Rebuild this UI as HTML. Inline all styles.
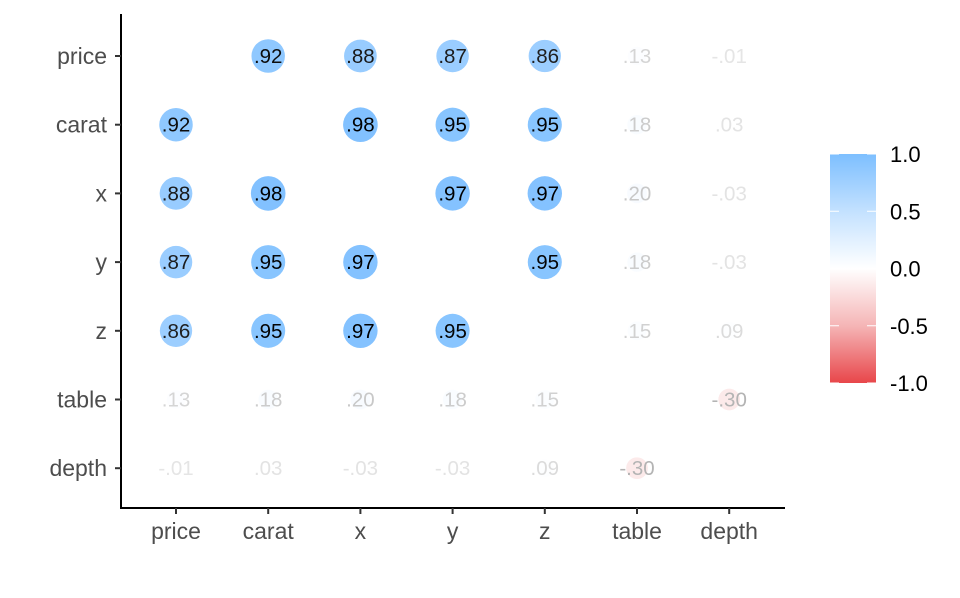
<!DOCTYPE html>
<html><head><meta charset="utf-8"><style>
body{margin:0;background:#fff;}
svg text{font-family:"Liberation Sans",sans-serif;}
</style></head><body>
<svg id="chart" width="960" height="593" xmlns="http://www.w3.org/2000/svg">
<defs>
<linearGradient id="cbar" x1="0" y1="0" x2="0" y2="1">
<stop offset="0" stop-color="#7dbfff"/>
<stop offset="0.25" stop-color="#c3e1ff"/>
<stop offset="0.5" stop-color="#ffffff"/>
<stop offset="0.75" stop-color="#f5b5b6"/>
<stop offset="1" stop-color="#e8464a"/>
</linearGradient>
</defs>
<g id="plot"></g>
<g id="legend">
<rect x="830" y="154" width="46" height="229" fill="url(#cbar)"/>
</g>
</svg>
<script>
const vars = ["price","carat","x","y","z","table","depth"];
const corr = [
[1,.92,.88,.87,.86,.13,-.01],
[.92,1,.98,.95,.95,.18,.03],
[.88,.98,1,.97,.97,.20,-.03],
[.87,.95,.97,1,.95,.18,-.03],
[.86,.95,.97,.95,1,.15,.09],
[.13,.18,.20,.18,.15,1,-.30],
[-.01,.03,-.03,-.03,.09,-.30,1]
];
const legendTicks = [1.0,0.5,0.0,-0.5,-1.0];

const NS="http://www.w3.org/2000/svg";
const svg=document.getElementById('plot');
const leg=document.getElementById('legend');
const xPos=i=>176+i*92.2;
const yPos=i=>56+i*68.7;
function mk(tag,attrs,parent){const e=document.createElementNS(NS,tag);for(const k in attrs)e.setAttribute(k,attrs[k]);parent.appendChild(e);return e;}
function lerp(a,b,t){return Math.round(a+(b-a)*t);}
function col(v){
  const t=Math.pow(Math.abs(v),1.8);
  if(v>=0){return `rgb(${lerp(255,125,t)},${lerp(255,191,t)},255)`;}
  return `rgb(${lerp(255,232,t)},${lerp(255,70,t)},${lerp(255,74,t)})`;
}
function fmt(v){let s=Math.abs(v).toFixed(2).replace(/^0/,'');return (v<0?'-':'')+s;}
let ax=mk('line',{x1:121,y1:14,x2:121,y2:508.5,stroke:'#000','stroke-width':2},svg);

ax=mk('line',{x1:120,y1:508,x2:785,y2:508,stroke:'#000','stroke-width':2},svg);

vars.forEach((v,i)=>{
  let t=mk('line',{x1:xPos(i),y1:508,x2:xPos(i),y2:514,stroke:'#333','stroke-width':2},svg);
  
  let l=mk('text',{x:xPos(i),y:539,'text-anchor':'middle','font-size':23,fill:'#4d4d4d'},svg);l.textContent=v;
  
  t=mk('line',{x1:115,y1:yPos(i),x2:121,y2:yPos(i),stroke:'#333','stroke-width':2},svg);
  
  l=mk('text',{x:107,y:yPos(i)+8,'text-anchor':'end','font-size':23,fill:'#4d4d4d'},svg);l.textContent=v;
  
});
corr.forEach((row,r)=>row.forEach((v,c)=>{
  if(r===c)return;
  const a=Math.abs(v);
  const ci=mk('circle',{cx:xPos(c),cy:yPos(r),r:8+9.5*a,fill:col(v)},svg);
  
  
  const g=Math.round(230-(230)*Math.min(1,Math.pow(a,1.3)*1.05));
  const tx=mk('text',{x:xPos(c),y:yPos(r)+7,'text-anchor':'middle','font-size':20.5,fill:`rgb(${g},${g},${g})`},svg);
  tx.textContent=fmt(v);
  
  
}));
legendTicks.forEach(v=>{
  const y=154+(1-v)/2*229;
  let t=mk('line',{x1:830,y1:y,x2:839,y2:y,stroke:'#fff','stroke-width':1},leg);
  
  t=mk('line',{x1:867,y1:y,x2:876,y2:y,stroke:'#fff','stroke-width':1},leg);
  
  const l=mk('text',{x:890,y:y+8,'font-size':22,fill:'#000'},leg);l.textContent=v.toFixed(1);
  
});
</script>
</body></html>
